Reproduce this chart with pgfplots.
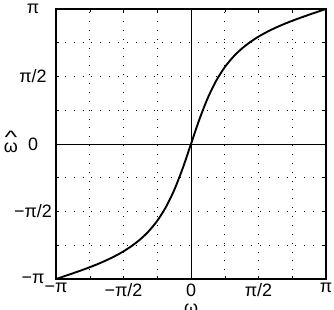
\documentclass[border=0pt]{standalone}
\usepackage{fontspec}
\setmainfont{Liberation Sans}
\usepackage{pgfplots}
\pgfplotsset{compat=1.18}
\begin{document}
\begin{tikzpicture}
\begin{axis}[
  scale only axis, width=270bp, height=270bp,
  xmin=-3.14159265, xmax=3.14159265, ymin=-3.14159265, ymax=3.14159265,
  xtick={-3.14159265,-1.5707963,0,1.5707963,3.14159265},
  ytick={-3.14159265,-1.5707963,0,1.5707963,3.14159265},
  xticklabels={−π,−π/2,0,π/2,π},
  yticklabels={−π,−π/2,0,π/2,π},
  minor xtick={-2.35619449,-0.78539816,0.78539816,2.35619449},
  minor ytick={-2.35619449,-0.78539816,0.78539816,2.35619449},
  grid=both,
  major grid style={black, line width=0.6pt, dash pattern=on 0.9pt off 8pt},
  minor grid style={black, line width=0.6pt, dash pattern=on 0.9pt off 8pt},
  tick align=inside, major tick length=3bp, minor tick length=3bp,
  tick style={black, line width=0.5pt},
  axis line style={line width=1.1pt},
  ticklabel style={font=\fontsize{18}{18}\selectfont},
  yticklabel style={anchor=center, xshift=-23bp},
  xticklabel style={anchor=north, yshift=-1bp},
  extra x ticks={0}, extra x tick labels={},
  extra y ticks={0}, extra y tick labels={},
  extra tick style={grid=major, major grid style={black, solid, line width=0.7pt}},
  xlabel={ω}, xlabel style={font=\fontsize{18}{18}\selectfont, at={(axis description cs:0.5,0)}, anchor=north, yshift=-21bp},
  ylabel={\fontsize{18}{18}\selectfont\shortstack{\scalebox{1.5}[1]{\^{}}\\[-4bp]ω}},
  ylabel style={rotate=-90, at={(axis description cs:0,0.5)}, anchor=center, xshift=-45bp, yshift=2bp},
]
\addplot[black, line width=1.9pt, smooth] coordinates {
(-3.14159,-3.14159) (-2.94524,-3.0760) (-2.74889,-3.0092) (-2.55254,-2.9400)
(-2.35619,-2.8672) (-2.15985,-2.7889) (-1.96350,-2.7033) (-1.76715,-2.6075)
(-1.57080,-2.4981) (-1.37445,-2.3694) (-1.17810,-2.2161) (-0.98175,-2.0264)
(-0.78540,-1.7864) (-0.58905,-1.4766) (-0.39270,-1.0760) (-0.19635,-0.5746)
(0,0)
(0.19635,0.5746) (0.39270,1.0760) (0.58905,1.4766) (0.78540,1.7864)
(0.98175,2.0264) (1.17810,2.2161) (1.37445,2.3694) (1.57080,2.4981)
(1.76715,2.6075) (1.96350,2.7033) (2.15985,2.7889) (2.35619,2.8672)
(2.55254,2.9400) (2.74889,3.0092) (2.94524,3.0760) (3.14159,3.14159)
};
\end{axis}
\pgfresetboundingbox
\useasboundingbox ([xshift=-56bp,yshift=-31bp]current axis.south west) rectangle ([xshift=8bp,yshift=9bp]current axis.north east);
\end{tikzpicture}
\end{document}
